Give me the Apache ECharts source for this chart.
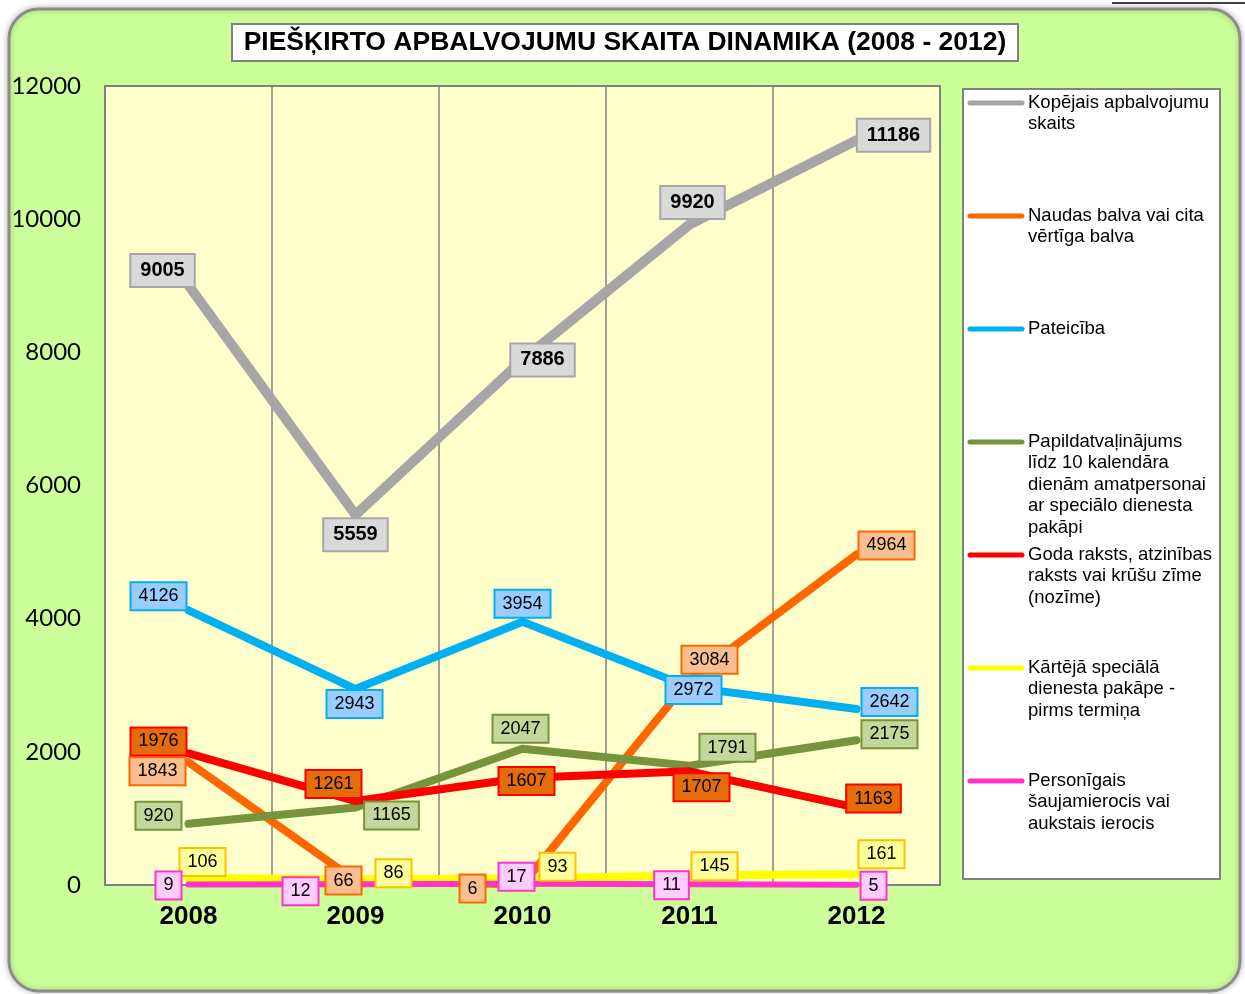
<!DOCTYPE html>
<html>
<head>
<meta charset="utf-8">
<title>Piešķirto apbalvojumu skaita dinamika</title>
<script src="https://cdn.jsdelivr.net/npm/echarts@6/dist/echarts.min.js"></script>
<style>
  html, body { margin: 0; padding: 0; background: #ffffff; }
  #chart { width: 1245px; height: 994px; }
</style>
</head>
<body>
<div id="chart"></div>
<script>
// gadi
var years = ['2008', '2009', '2010', '2011', '2012'];
var yTicks = [0, 2000, 4000, 6000, 8000, 10000, 12000];

// sērijas
var kopejais = [9005, 5559, 7886, 9920, 11186];
var naudas = [1843, 66, 6, 3084, 4964];
var pateiciba = [4126, 2943, 3954, 2972, 2642];
var papildatv = [920, 1165, 2047, 1791, 2175];
var godaRaksts = [1976, 1261, 1607, 1707, 1163];
var kartejaPakape = [106, 86, 93, 145, 161];
var personigais = [9, 12, 17, 11, 5];

var names = [
  'Kopējais apbalvojumu\nskaits',
  'Naudas balva vai cita\nvērtīga balva',
  'Pateicība',
  'Papildatvaļinājums\nlīdz 10 kalendāra\ndienām amatpersonai\nar speciālo dienesta\npakāpi',
  'Goda raksts, atzinības\nraksts vai krūšu zīme\n(nozīme)',
  'Kārtējā speciālā\ndienesta pakāpe -\npirms termiņa',
  'Personīgais\nšaujamierocis vai\naukstais ierocis'
];

// stili katrai sērijai: līnija, etiķetes fons, etiķetes rāmis
var styles = [
  { line: '#a6a6a6', bg: '#d9d9d9', border: '#a6a6a6', width: 10, bold: true },
  { line: '#ff6600', bg: '#fabf8f', border: '#ff6600', width: 8 },
  { line: '#00b0f0', bg: '#99ccff', border: '#00b0f0', width: 8 },
  { line: '#77933c', bg: '#c4d79b', border: '#77933c', width: 8 },
  { line: '#ff0000', bg: '#e46c0a', border: '#ff0000', width: 8 },
  { line: '#ffff00', bg: '#ffff99', border: '#ffc000', width: 8 },
  { line: '#ff33cc', bg: '#ffccff', border: '#ff33cc', width: 6 }
];

// etiķešu nobīdes (px) no punkta
var offsets = [
  [[-26, -15], [0, 20], [20, 0], [3, -22], [37, -5]],
  [[-31, 9], [-12, 0], [-50, 4], [20, -20], [30, -9]],
  [[-30, -14], [-1, 15], [0, -18], [4, 3], [33, -7]],
  [[-30, -8], [36, 8], [-2, -20], [38, -18], [33, -6]],
  [[-30, -12], [-22, -17], [4, 3], [12, 16], [17, -9]],
  [[14, -16], [38, -6], [35, -12], [25, -9], [25, -20]],
  [[-20, 1], [-55, 7], [-6, -7], [-18, 1], [17, 1]]
];

var allData = [kopejais, naudas, pateiciba, papildatv, godaRaksts, kartejaPakape, personigais];

// līnijas
var lineSeries = allData.map(function (vals, i) {
  var st = styles[i];
  return {
    name: names[i],
    type: 'line',
    symbol: 'none',
    z: 2 + i,
    itemStyle: { color: st.line },
    lineStyle: { color: st.line, width: st.width, cap: 'round', join: 'round' },
    emphasis: { disabled: true },
    data: vals
  };
});

// etiķetes virs visām līnijām
var labelSeries = allData.map(function (vals, i) {
  var st = styles[i];
  return {
    name: names[i] + ' (etiķetes)',
    type: 'line',
    symbol: 'rect',
    symbolSize: 1,
    z: 20 + i,
    itemStyle: { color: 'rgba(0,0,0,0)' },
    lineStyle: { width: 0, opacity: 0 },
    label: {
      show: true,
      position: 'inside',
      color: '#000',
      fontFamily: 'Liberation Sans, Arial, sans-serif',
      fontSize: st.bold ? 20 : 18,
      fontWeight: st.bold ? 'bold' : 'normal',
      backgroundColor: st.bg,
      borderColor: st.border,
      borderWidth: 2,
      padding: st.bold ? [6, 9, 5, 9] : [5, 7, 3, 7]
    },
    emphasis: { disabled: true },
    silent: true,
    data: vals.map(function (v, j) {
      return { value: v, label: { offset: offsets[i][j] } };
    })
  };
});

// leģenda (zīmēta kā grafika)
var legendTop = [103, 216, 329, 442, 555, 668, 781];
var legendGraphics = [];
names.forEach(function (n, i) {
  legendGraphics.push({
    type: 'line', z: 100,
    shape: { x1: 970, y1: legendTop[i], x2: 1022, y2: legendTop[i] },
    style: { stroke: styles[i].line, lineWidth: 5, lineCap: 'round' }
  });
  legendGraphics.push({
    type: 'text', z: 100,
    style: {
      x: 1028, y: legendTop[i] - 11,
      text: n,
      font: '18.5px "Liberation Sans", Arial, sans-serif',
      lineHeight: 21.5,
      fill: '#000',
      verticalAlign: 'top'
    }
  });
});

var chart = echarts.init(document.getElementById('chart'));
var option = {
  animation: false,
  backgroundColor: '#ffffff',
  graphic: [
    {
      type: 'rect', z: -10,
      shape: { x: 9, y: 9, width: 1231, height: 982, r: 30 },
      style: { fill: '#ccff99', stroke: '#8c8c8c', lineWidth: 3, shadowBlur: 6, shadowColor: 'rgba(0,0,0,0.25)' }
    },
    {
      type: 'line', z: -5,
      shape: { x1: 1112, y1: 3, x2: 1245, y2: 3 },
      style: { stroke: '#000', lineWidth: 1.5 }
    },
    {
      type: 'rect', z: 50,
      shape: { x: 232, y: 24, width: 786, height: 37 },
      style: { fill: '#ffffff', stroke: '#808080', lineWidth: 2 }
    },
    {
      type: 'text', z: 51,
      style: {
        x: 625, y: 43,
        text: 'PIEŠĶIRTO APBALVOJUMU SKAITA DINAMIKA (2008 - 2012)',
        font: 'bold 26.5px "Liberation Sans", Arial, sans-serif',
        fill: '#000', align: 'center', verticalAlign: 'middle'
      }
    },
    {
      type: 'rect', z: 50,
      shape: { x: 963, y: 89, width: 257, height: 790 },
      style: { fill: '#ffffff', stroke: '#808080', lineWidth: 2 }
    }
  ].concat(legendGraphics),
  grid: {
    left: 105, top: 86, width: 835, height: 799,
    show: true,
    backgroundColor: '#ffffcc',
    borderColor: '#808080',
    borderWidth: 2
  },
  xAxis: {
    type: 'category',
    data: years,
    boundaryGap: true,
    axisLine: { show: false },
    axisTick: { show: false },
    splitLine: { show: true, lineStyle: { color: '#808080', width: 1.5 } },
    axisLabel: {
      color: '#000',
      fontFamily: 'Liberation Sans, Arial, sans-serif',
      fontSize: 26,
      fontWeight: 'bold',
      margin: 19
    }
  },
  yAxis: {
    type: 'value',
    min: yTicks[0],
    max: yTicks[yTicks.length - 1],
    interval: 2000,
    axisLine: { show: false },
    axisTick: { show: false },
    splitLine: { show: false },
    axisLabel: {
      color: '#000',
      fontFamily: 'Lato, Open Sans, sans-serif',
      fontSize: 24,
      margin: 24,
      formatter: function (v) { return String(v); }
    }
  },
  series: lineSeries.concat(labelSeries)
};
chart.setOption(option);
</script>
</body>
</html>
